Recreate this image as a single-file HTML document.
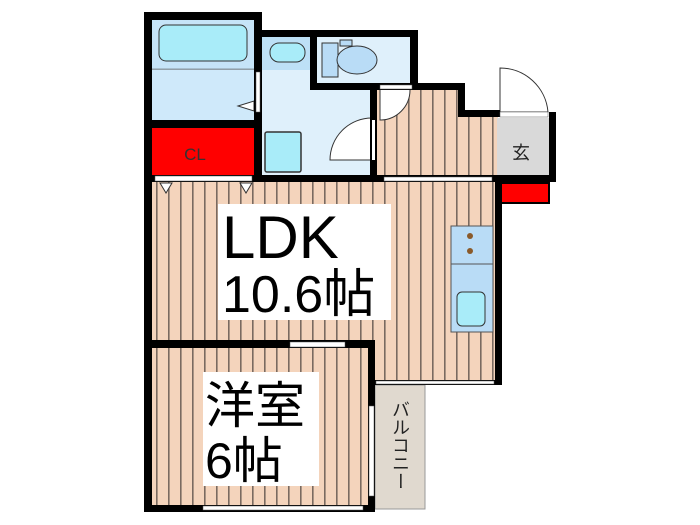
<!DOCTYPE html>
<html><head><meta charset="utf-8"><style>
html,body{margin:0;padding:0;background:#fff;}
svg{display:block;}
text{font-family:"Liberation Sans","Noto Sans CJK JP",sans-serif;}
</style></head><body>
<svg width="700" height="525" viewBox="0 0 700 525" xmlns="http://www.w3.org/2000/svg">
<defs>
<pattern id="wd" width="12" height="10" patternUnits="userSpaceOnUse">
<rect width="12" height="10" fill="#f4d4bc"/>
<rect x="0" y="0" width="1.6" height="10" fill="#7a6a60"/>
</pattern>
</defs>
<!-- floors -->
<rect x="152" y="20" width="102" height="102" fill="#cfe9fa"/>
<rect x="262" y="37" width="110" height="140" fill="#dff0fb"/>
<rect x="317" y="37" width="93" height="46" fill="#dff0fb"/>
<rect x="376" y="90" width="84" height="88" fill="url(#wd)"/>
<rect x="458" y="116" width="40" height="62" fill="url(#wd)"/>
<rect x="152" y="182" width="345" height="160" fill="url(#wd)"/>
<rect x="375" y="340" width="122" height="42" fill="url(#wd)"/>
<rect x="152" y="348" width="217" height="160" fill="url(#wd)"/>
<rect x="497" y="118" width="52" height="58" fill="#d9d9d9"/>
<rect x="375" y="385" width="50" height="124" fill="#e0d9cf" stroke="#999" stroke-width="1"/>
<!-- bath -->
<line x1="152" y1="69" x2="254" y2="69" stroke="#555" stroke-width="1"/>
<rect x="152" y="20" width="102" height="49" fill="#bde0f6" opacity="0.5"/>
<rect x="159" y="25" width="88" height="36" rx="7" fill="#a9ecf9" stroke="#333" stroke-width="1"/>
<rect x="262" y="37" width="48" height="33" fill="#bde0f6"/>
<rect x="270" y="43" width="35" height="19" rx="9" fill="#a9ecf9" stroke="#333" stroke-width="1"/>
<rect x="265" y="132" width="36" height="40" rx="2" fill="#a9ecf9" stroke="#333" stroke-width="1.5"/>
<rect x="322" y="43" width="16" height="34" fill="#b9dcf6" stroke="#333" stroke-width="1"/>
<rect x="340" y="40" width="12" height="6" fill="#b9dcf6" stroke="#333" stroke-width="1"/>
<ellipse cx="357" cy="60" rx="20" ry="14" fill="#b9dcf6" stroke="#333" stroke-width="1"/>
<path d="M238,106 L254,101 L254,111 Z" fill="#fff" stroke="#333" stroke-width="1"/>
<!-- CL -->
<rect x="152" y="128" width="102" height="47" fill="#ff0000"/>
<text x="195" y="160" font-size="17" fill="#333" text-anchor="middle">CL</text>
<rect x="500" y="183" width="49" height="20" fill="#ff0000" stroke="#000" stroke-width="2"/>
<!-- doors -->
<path d="M372,160 L330,160 A42,42 0 0 1 372,118" fill="#fff" stroke="#333" stroke-width="1"/>
<path d="M380,90 L380,120 A30,30 0 0 0 410,90" fill="#fff" stroke="#333" stroke-width="1"/>
<path d="M500,112 L500,68 A48,48 0 0 1 548,112 Z" fill="#fff" stroke="#333" stroke-width="1"/>
<!-- walls -->
<g fill="#000">
<rect x="144" y="12" width="118" height="8"/>
<rect x="144" y="12" width="8" height="500"/>
<rect x="254" y="12" width="8" height="170"/>
<rect x="144" y="120" width="118" height="8"/>
<rect x="254" y="30" width="164" height="7"/>
<rect x="310" y="30" width="7" height="60"/>
<rect x="310" y="83" width="62" height="7"/>
<rect x="410" y="30" width="8" height="60"/>
<rect x="370" y="83" width="95" height="7"/>
<rect x="458" y="83" width="7" height="34"/>
<rect x="458" y="110" width="42" height="7"/>
<rect x="549" y="112" width="7" height="66"/>
<rect x="370" y="83" width="7" height="95"/>
<rect x="144" y="175" width="412" height="7"/>
<rect x="495" y="175" width="7" height="210"/>
<rect x="144" y="340" width="231" height="8"/>
<rect x="368" y="340" width="7" height="172"/>
<rect x="144" y="505" width="231" height="7"/>
<rect x="375" y="380" width="127" height="5"/>
</g>
<!-- openings -->
<rect x="256" y="72" width="4" height="40" fill="#fff" stroke="#555" stroke-width="0.5"/>
<rect x="372" y="120" width="3" height="40" fill="#fff"/>
<rect x="380" y="85" width="32" height="4" fill="#fff" stroke="#555" stroke-width="0.5"/>
<rect x="500" y="112" width="48" height="5" fill="#fff" stroke="#555" stroke-width="0.5"/>
<rect x="155" y="176" width="97" height="5" fill="#fff" stroke="#555" stroke-width="0.5"/>
<rect x="384" y="177" width="108" height="4" fill="#fff" stroke="#555" stroke-width="0.5"/>
<rect x="290" y="342" width="55" height="5" fill="#fff" stroke="#555" stroke-width="0.5"/>
<rect x="376" y="381" width="118" height="3" fill="#fff" stroke="#555" stroke-width="0.5"/>
<rect x="203" y="506" width="160" height="4" fill="#fff" stroke="#555" stroke-width="0.5"/>
<rect x="369" y="406" width="5" height="90" fill="#fff" stroke="#555" stroke-width="0.5"/>
<path d="M160,183 L172,183 L166,193 Z M240,183 L252,183 L246,193 Z" fill="#fff" stroke="#333" stroke-width="1"/>
<!-- kitchen -->
<rect x="451" y="226" width="42" height="38" fill="#b9dcf6" stroke="#555" stroke-width="1"/>
<rect x="451" y="264" width="42" height="68" fill="#b9dcf6" stroke="#555" stroke-width="1"/>
<circle cx="470" cy="236" r="3" fill="#8a5a2a"/>
<circle cx="470" cy="251" r="3" fill="#8a5a2a"/>
<rect x="457" y="292" width="28" height="34" rx="5" fill="#a9ecf9" stroke="#333" stroke-width="1"/>
<!-- labels -->
<rect x="218" y="204" width="173" height="116" fill="#fff"/>
<text x="222" y="258" font-size="60" fill="#000">LDK</text>
<text x="222" y="312" font-size="52" fill="#000">10.6帖</text>
<rect x="203" y="372" width="116" height="114" fill="#fff"/>
<text x="205" y="423" font-size="50" fill="#000">洋室</text>
<text x="205" y="478" font-size="50" fill="#000">6帖</text>
<text x="521" y="159" font-size="18" fill="#222" text-anchor="middle">玄</text>
<text x="400" y="400" font-size="18" fill="#222" writing-mode="tb" text-anchor="start">バルコニー</text>
</svg>
</body></html>
